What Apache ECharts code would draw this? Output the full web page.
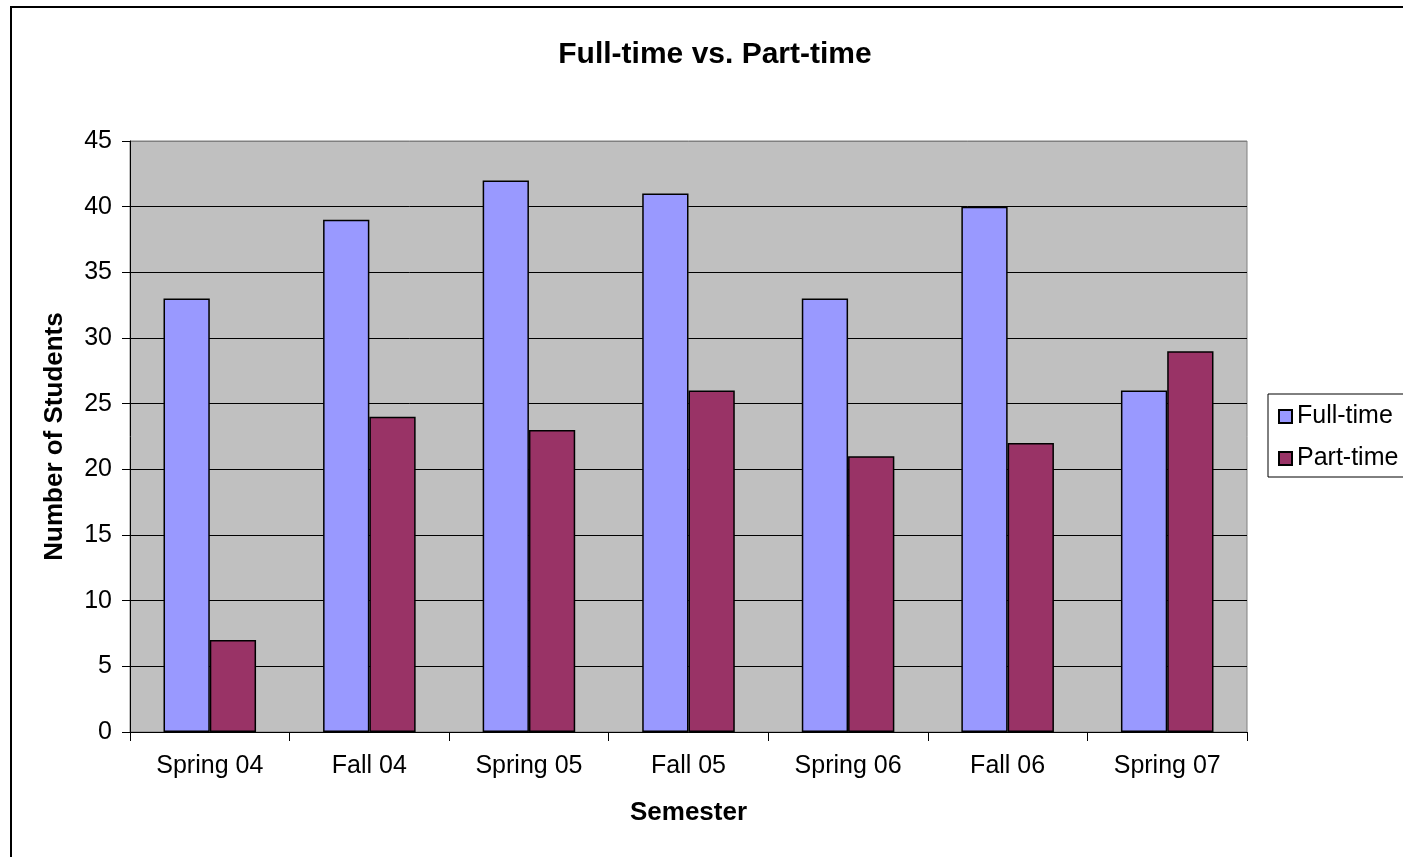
<!DOCTYPE html>
<html>
<head>
<meta charset="utf-8">
<title>Full-time vs. Part-time</title>
<script src="https://cdn.jsdelivr.net/npm/echarts@6/dist/echarts.min.js"></script>
<style>
  html, body { margin: 0; padding: 0; background: #fff; }
  #chart { width: 1403px; height: 857px; }
</style>
</head>
<body>
<div id="chart"></div>
<script>
// data
var semesters = ['Spring 04', 'Fall 04', 'Spring 05', 'Fall 05', 'Spring 06', 'Fall 06', 'Spring 07']
var fullTime = [33, 39, 42, 41, 33, 40, 26]
var partTime = [7, 24, 23, 26, 21, 22, 29]

var font = "'Liberation Sans', Arial, sans-serif"
var chart = echarts.init(document.getElementById('chart'), null, { renderer: 'canvas' })

// split lines black, top one (at 45) grey like the plot frame
var splitColors = ['#000', '#000', '#000', '#000', '#000', '#000', '#000', '#000', '#000', '#808080']

var option = {
  backgroundColor: '#fff',
  animation: false,
  textStyle: { fontFamily: font },
  graphic: [
    {
      // outer chart frame, cut off on the right and bottom
      type: 'rect',
      z: 100,
      shape: { x: 11, y: 7, width: 2000, height: 2000 },
      style: { fill: 'none', stroke: '#000', lineWidth: 2 }
    }
  ],
  title: {
    text: 'Full-time vs. Part-time',
    left: 710,
    top: 35,
    textAlign: 'center',
    textStyle: { fontFamily: font, fontSize: 30, fontWeight: 'bold', color: '#000' }
  },
  legend: {
    orient: 'vertical',
    left: 1268,
    top: 394,
    padding: [10, 30, 6, 10],
    itemWidth: 13,
    itemHeight: 13,
    itemGap: 17,
    itemTextGap: 11,
    icon: 'rect',
    borderColor: '#000',
    borderWidth: 1,
    backgroundColor: '#fff',
    textStyle: { fontFamily: font, fontSize: 25, color: '#000' },
    data: ['Full-time', 'Part-time']
  },
  grid: {
    left: 130,
    top: 141,
    width: 1117,
    height: 591,
    show: true,
    backgroundColor: '#C0C0C0',
    borderColor: '#808080',
    borderWidth: 1
  },
  xAxis: {
    type: 'category',
    data: semesters,
    name: 'Semester',
    nameLocation: 'middle',
    nameGap: 68,
    nameTextStyle: { fontFamily: font, fontSize: 26, fontWeight: 'bold', color: '#000' },
    axisLine: { lineStyle: { color: '#000', width: 1 } },
    axisTick: { show: true, length: 9, lineStyle: { color: '#000' } },
    axisLabel: { margin: 22, fontFamily: font, fontSize: 25, color: '#000' }
  },
  yAxis: {
    type: 'value',
    min: 0,
    max: 45,
    interval: 5,
    name: 'Number of Students',
    nameLocation: 'middle',
    nameGap: 62,
    nameTextStyle: { fontFamily: font, fontSize: 26, fontWeight: 'bold', color: '#000' },
    axisLine: { show: true, lineStyle: { color: '#000', width: 1 } },
    axisTick: { show: true, length: 8, lineStyle: { color: '#000' } },
    axisLabel: { margin: 18, fontFamily: font, fontSize: 25, color: '#000' },
    splitLine: { show: true, lineStyle: { color: splitColors, width: 1 } }
  },
  series: [
    {
      name: 'Full-time',
      type: 'bar',
      data: fullTime,
      barGap: '0%',
      barCategoryGap: '42%',
      itemStyle: { color: '#9999FF', borderColor: '#000', borderWidth: 1.5 }
    },
    {
      name: 'Part-time',
      type: 'bar',
      data: partTime,
      barGap: '0%',
      barCategoryGap: '42%',
      itemStyle: { color: '#993366', borderColor: '#000', borderWidth: 1.5 }
    }
  ]
}

chart.setOption(option)
</script>
</body>
</html>
